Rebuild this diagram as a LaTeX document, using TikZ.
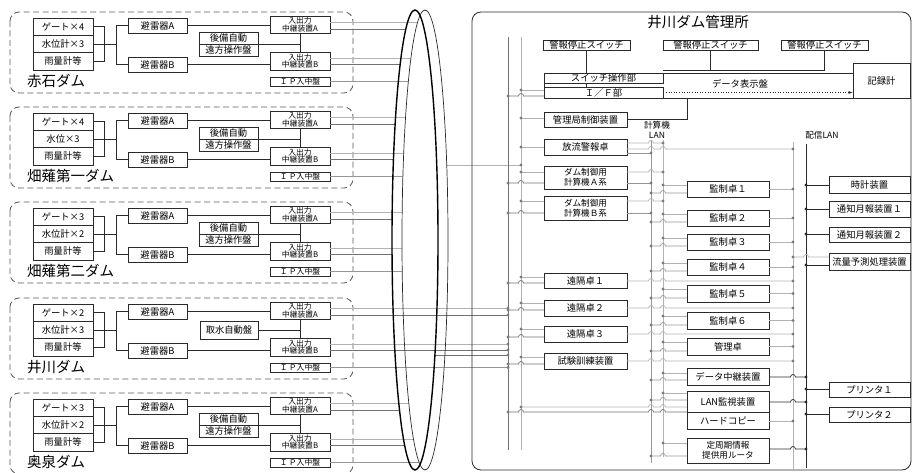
\documentclass[tikz,border=0pt]{standalone}
\usepackage{fontspec}
\setmainfont{Noto Sans CJK JP}
\usetikzlibrary{arrows.meta}
\definecolor{ltc}{HTML}{B2B2B2}
\definecolor{dkc}{HTML}{727272}
\definecolor{mdc}{HTML}{969696}
\definecolor{bxc}{HTML}{2A2A2A}
\definecolor{dotc}{HTML}{7C7C7C}
\definecolor{dsc}{HTML}{5A5A5A}
\tikzset{
 bx/.style={draw=bxc, line width=0.7pt, inner sep=0pt, align=center, font=\fontsize{9.3}{10}\selectfont},
 sbx/.style={bx, font=\fontsize{7.8}{7.8}\selectfont},
 tbx/.style={bx, font=\fontsize{8.6}{9.6}\selectfont},
 ln/.style={line width=0.6pt, draw=bxc},
 lt/.style={line width=0.7pt, draw=ltc},
 dk/.style={line width=0.7pt, draw=dkc},
 md/.style={line width=0.7pt, draw=mdc},
 bk/.style={line width=0.7pt, draw=bxc},
 dgrp/.style={draw=dsc, line width=0.8pt, dash pattern=on 6pt off 3.5pt, rounded corners=9pt},
}
\newcommand\bxn[7][bx]{\node[#1,minimum width={(#5-#3)*1pt},minimum height={(#6-#4)*1pt}] (#2) at ({(#3+#5)/2},{(#4+#6)/2}) {#7};}
\newcommand\hl[4]{\draw[#1] (#3,#2) -- (#4,#2);}
\newcommand\hlh[5]{\draw[#1] (#3,#2) \foreach \h in {#5}{ -- ({\h-2.5},#2) arc[start angle=180,end angle=0,radius=2.5pt] } -- (#4,#2);}
\newcommand\dt[3][dotc]{\fill[#1] (#2,#3) circle (1.7pt);}
\newcommand\damgrp[6]{%
\begin{scope}[yshift={-#2pt}]
\draw[dgrp] (10,12) rectangle (353,93);
\bxn{#1ga}{33}{18}{93}{35.3}{#4}
\bxn{#1lv}{33}{35.3}{93}{52.6}{#5}
\bxn{#1rn}{33}{52.6}{93}{70}{雨量計等}
\bxn{#1aa}{128}{18}{187}{33}{避雷器A}
\bxn{#1ab}{128}{57}{187}{72}{避雷器B}
\ifnum#6=1
 \bxn{#1p1}{199}{32}{258}{44}{後備自動}
 \bxn{#1p2}{199}{44}{258}{56}{遠方操作盤}
\else
 \bxn{#1p1}{200}{35}{258}{53}{取水自動盤}
\fi
\coordinate (#1pe) at (258,44);
\bxn[sbx]{#1ia}{270}{16}{330}{33}{入出力\\中継装置A}
\bxn[sbx]{#1ib}{270}{52}{330}{70}{入出力\\中継装置B}
\bxn[sbx]{#1ip}{270}{77}{330}{86}{Ｉ\,Ｐ入中盤}
\node[anchor=west, inner sep=0pt, font=\fontsize{14.5}{15}\selectfont] (#1lb) at (27,81) {#3};
\draw[ln] (#1ga.east) -- ++(11,0) |- (#1rn.east);
\draw[ln] (#1lv.east) -- ++(24,0);
\draw[ln] (#1aa.west) -- ++(-11,0) |- (#1ab.west);
\draw[ln] (#1aa.east) -- (#1aa.east -| #1ia.west);
\draw[ln] (#1ab.east) -- (#1ab.east -| #1ib.west);
\draw[ln] (#1pe) -- (#1pe -| #1ia.south);
\draw[ln] (#1ia.south) -- (#1ib.north);
\end{scope}}
\begin{document}
\begin{tikzpicture}[x=1pt,y=-1pt]
\useasboundingbox (0,0) rectangle (914,473);
% ---------- dams ----------
\damgrp{ga}{0}{赤石ダム}{ゲート×4}{水位計×3}{1}
\damgrp{gb}{95}{畑薙第一ダム}{ゲート×4}{水位×3}{1}
\damgrp{gc}{190}{畑薙第二ダム}{ゲート×3}{水位計×2}{1}
\damgrp{gd}{286}{井川ダム}{ゲート×2}{水位計×3}{0}
\damgrp{ge}{381}{奥泉ダム}{ゲート×3}{水位計×2}{1}
% lines to the two networks
\foreach \o in {0,95,190,381}{
 \foreach \yy/\cx/\st in {22/425/lt, 29/415/dk, 58/425/lt, 64/415/dk, 81.5/425/md}{
  \pgfmathsetmacro\Y{\o+\yy}
  \pgfmathsetmacro\X{\cx-23*sqrt(1-((\Y-240)/230)^2)}
  \draw[\st] (330,\Y) -- (\X,\Y);
 }
}
% Ikawa dam direct lines
\foreach \yy/\st in {308/lt,315/dk,344/lt,350/dk,367.5/md}{
 \draw[\st] (330,\yy) -- (508,\yy);
}
\draw[lt] (447,165) -- (521,165);
\draw[dk] (435,355) -- (508,355);
% ellipses
\draw[line width=1.4pt, black] (415,240) ellipse [x radius=23pt, y radius=230pt];
\draw[line width=0.7pt, bxc] (425,240) ellipse [x radius=23pt, y radius=230pt];
% ---------- office ----------
\draw[line width=0.8pt, bxc, rounded corners=9pt] (472,12) rectangle (911,470);
\node[font=\fontsize{14.5}{15}\selectfont] (ttl) at (698,22) {井川ダム管理所};
\bxn{sw1}{543}{40}{630}{50}{警報停止スイッチ}
\bxn{sw2}{663}{40}{758}{50}{警報停止スイッチ}
\bxn{sw3}{781}{40}{868}{50}{警報停止スイッチ}
\bxn{dsp}{544}{73}{853}{98}{}
\node[font=\fontsize{9.3}{10}\selectfont] (dsptx) at (740,84) {データ表示盤};
\bxn{swo}{544}{73}{663}{83}{スイッチ操作部}
\bxn{ifb}{544}{87}{663}{98}{Ｉ／Ｆ部}
\bxn{rec}{853}{63}{910}{98}{記録計}
\coordinate (swj) at (663,70);
\draw[ln] (sw1.south) -- (sw1.south |- swo.north);
\draw[ln] (swo.south -| sw1.south) -- (ifb.north -| sw1.south);
\draw[ln] (sw2.south) -- (sw2.south |- swj);
\draw[ln] (sw3.south) |- (swj);
\draw[ln, dotted, -{Latex[length=4pt,width=3pt]}] (ifb.east) -- (ifb.east -| rec.west);
\bxn{kcc}{544}{112}{627}{127}{管理局制御装置}
\coordinate (kj) at (687,98);
\draw[ln] (kcc.east) -| (kj);
\node[font=\fontsize{8.6}{10}\selectfont, align=center] (clan) at (657,130) {計算機\\LAN};
\node[font=\fontsize{8.6}{10}\selectfont] (dlan) at (822,135) {配信LAN};
% buses
\draw[dk] (508,37) -- (508,450);
\draw[lt] (521,37) -- (521,450);
\draw[md] (651,140) -- (651,463);
\draw[lt] (663,140) -- (663,457);
\draw[lt] (793,142) -- (793,470);
\draw[line width=0.9pt, bxc] (806,144) -- (806,468);
% left column boxes
\bxn{hr}{544}{139}{627}{155}{放流警報卓}
\bxn[tbx]{dca}{544}{166}{627}{189}{ダム制御用\\計算機Ａ系}
\bxn[tbx]{dcb}{544}{196}{627}{220}{ダム制御用\\計算機Ｂ系}
\bxn{re1}{544}{273}{627}{288}{遠隔卓１}
\bxn{re2}{544}{300}{627}{316}{遠隔卓２}
\bxn{re3}{544}{326}{627}{342}{遠隔卓３}
\bxn{tst}{544}{353}{627}{369}{試験訓練装置}
% bus -> left boxes
\hl{lt}{90}{521}{544}\dt{521}{90}
\hlh{dk}{96}{508}{544}{521}\dt{508}{96}
\hl{lt}{118}{521}{544}\dt{521}{118}
\hl{lt}{147}{521}{544}\dt{521}{147}
\dt{521}{165}
\foreach \a/\b in {172/183,201/213,277/283,303/310,329/337,357/364}{
 \hl{lt}{\a}{521}{544}\dt{521}{\a}
 \hlh{dk}{\b}{508}{544}{521}\dt{508}{\b}
}
\foreach \yy in {308,315,344,350,355,367.5}{\dt{508}{\yy}}
\hlh{lt}{407}{521}{687}{651,663}\dt{521}{407}
\hlh{dk}{412}{508}{687}{521,651,663}\dt{508}{412}
% left boxes -> computer LAN
\hlh{lt}{143}{627}{663}{651}\dt{663}{143}
\hlh{lt}{149}{627}{793}{651,663}\dt{793}{149}
\hl{md}{153}{627}{651}\dt{651}{153}
\hlh{lt}{172}{627}{663}{651}\dt{663}{172}
\hl{md}{183}{627}{651}\dt{651}{183}
\hlh{lt}{201}{627}{663}{651}\dt{663}{201}
\hl{md}{213}{627}{651}\dt{651}{213}
\foreach \yy in {281,308,334,361}{\hlh{lt}{\yy}{627}{793}{651,663}\dt{793}{\yy}}
% consoles
\foreach \n/\t/\b/\tx in {m1/181/197/監制卓１,m2/210/226/監制卓２,m3/234/250/監制卓３,m4/259/275/監制卓４,m5/285/302/監制卓５,m6/312/329/監制卓６,mg/338/355/管理卓}{
 \bxn{\n}{687}{\t}{769}{\b}{\tx}
 \pgfmathsetmacro\ya{\t+4}\pgfmathsetmacro\yb{\b-4}\pgfmathsetmacro\yc{(\t+\b)/2}
 \hl{lt}{\ya}{663}{687}\dt{663}{\ya}
 \hlh{md}{\yb}{651}{687}{663}\dt{651}{\yb}
 \hl{lt}{\yc}{769}{793}\dt{793}{\yc}
}
\bxn{drl}{687}{368}{769}{385}{データ中継装置}
\bxn{lanm}{687}{391}{769}{412}{LAN監視装置}
\bxn{hcp}{687}{412}{769}{429}{ハードコピー}
\bxn[tbx]{rtr}{687}{438}{769}{463}{定周期情報\\提供用ルータ}
\foreach \a/\b in {373/380,393/400,443/456}{
 \hl{lt}{\a}{663}{687}\dt{663}{\a}
 \hlh{md}{\b}{651}{687}{663}\dt{651}{\b}
}
\foreach \yy in {377,402,449}{\hlh{bk}{\yy}{769}{806}{793}\dt[bxc]{806}{\yy}}
\hl{lt}{421}{769}{793}\dt{793}{421}
% delivery LAN devices
\bxn{clk}{829}{176}{910}{193}{時計装置}
\bxn{nt1}{829}{201}{910}{217}{通知月報装置１}
\bxn{nt2}{829}{227}{910}{242}{通知月報装置２}
\bxn{ryo}{829}{253}{910}{270}{流量予測処理装置}
\bxn{pr1}{829}{382}{910}{397}{プリンタ１}
\bxn{pr2}{829}{407}{910}{422}{プリンタ２}
\foreach \yy in {185,209,234,265,389,414}{\hl{bk}{\yy}{806}{829}\dt[bxc]{806}{\yy}}
\hlh{lt}{257}{793}{829}{806}\dt{793}{257}
\end{tikzpicture}
\end{document}
